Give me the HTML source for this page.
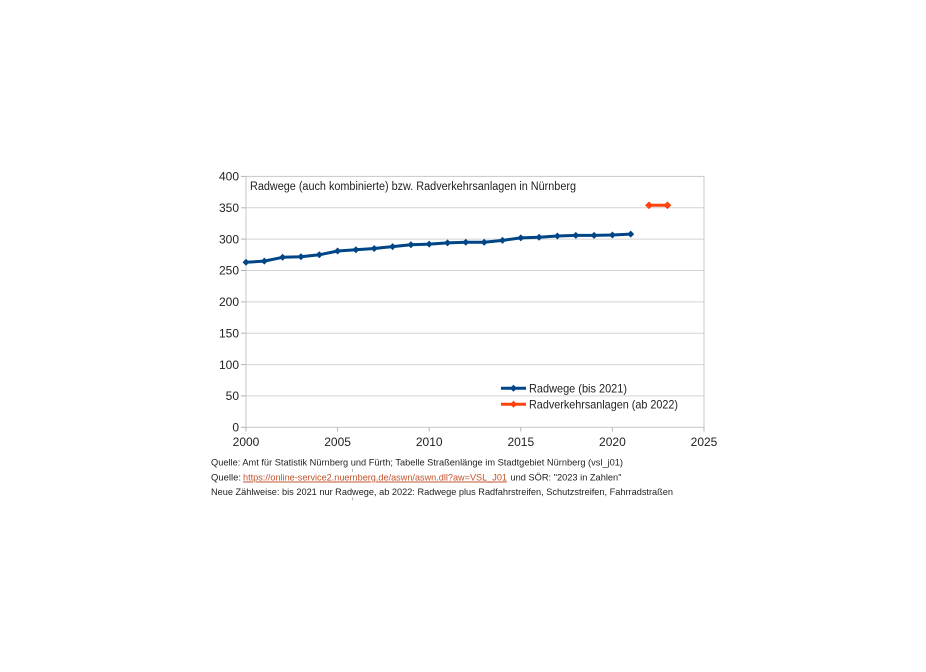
<!DOCTYPE html>
<html><head><meta charset="utf-8"><style>
html,body{margin:0;padding:0;background:#fff;}
svg{display:block;}
text{font-family:"Liberation Sans",sans-serif;}
</style></head><body>
<svg width="926" height="672" viewBox="0 0 926 672" xmlns="http://www.w3.org/2000/svg">
<rect width="926" height="672" fill="#fff"/>
<!-- gridlines -->
<g stroke="#d4d4d4" stroke-width="1">
<line x1="246" y1="395.9" x2="704" y2="395.9"/>
<line x1="246" y1="364.6" x2="704" y2="364.6"/>
<line x1="246" y1="333.2" x2="704" y2="333.2"/>
<line x1="246" y1="301.9" x2="704" y2="301.9"/>
<line x1="246" y1="270.5" x2="704" y2="270.5"/>
<line x1="246" y1="239.1" x2="704" y2="239.1"/>
<line x1="246" y1="207.8" x2="704" y2="207.8"/>
</g>
<!-- frame -->
<rect x="246" y="176.4" width="458" height="250.9" fill="none" stroke="#c8c8c8" stroke-width="1"/>
<!-- ticks -->
<g stroke="#b3b3b3" stroke-width="1">
<line x1="241" y1="427.3" x2="246" y2="427.3"/>
<line x1="241" y1="395.9" x2="246" y2="395.9"/>
<line x1="241" y1="364.6" x2="246" y2="364.6"/>
<line x1="241" y1="333.2" x2="246" y2="333.2"/>
<line x1="241" y1="301.9" x2="246" y2="301.9"/>
<line x1="241" y1="270.5" x2="246" y2="270.5"/>
<line x1="241" y1="239.1" x2="246" y2="239.1"/>
<line x1="241" y1="207.8" x2="246" y2="207.8"/>
<line x1="241" y1="176.4" x2="246" y2="176.4"/>
<line x1="246" y1="427.3" x2="246" y2="431.5"/>
<line x1="337.6" y1="427.3" x2="337.6" y2="431.5"/>
<line x1="429.2" y1="427.3" x2="429.2" y2="431.5"/>
<line x1="520.8" y1="427.3" x2="520.8" y2="431.5"/>
<line x1="612.4" y1="427.3" x2="612.4" y2="431.5"/>
<line x1="704" y1="427.3" x2="704" y2="431.5"/>
</g>
<!-- y labels -->
<g font-size="12" fill="#222" text-anchor="end">
<text x="239" y="431.5">0</text>
<text x="239" y="400.1">50</text>
<text x="239" y="368.8">100</text>
<text x="239" y="337.4">150</text>
<text x="239" y="306.1">200</text>
<text x="239" y="274.7">250</text>
<text x="239" y="243.3">300</text>
<text x="239" y="212">350</text>
<text x="239" y="180.6">400</text>
</g>
<!-- x labels -->
<g font-size="12" fill="#222" text-anchor="middle">
<text x="246" y="446">2000</text>
<text x="337.6" y="446">2005</text>
<text x="429.2" y="446">2010</text>
<text x="520.8" y="446">2015</text>
<text x="612.4" y="446">2020</text>
<text x="704" y="446">2025</text>
</g>
<!-- title -->
<text x="250" y="190" font-size="11.5" fill="#222" textLength="326" lengthAdjust="spacingAndGlyphs">Radwege (auch kombinierte) bzw. Radverkehrsanlagen in Nürnberg</text>
<!-- series 1 -->
<polyline fill="none" stroke="#004586" stroke-width="3" stroke-linejoin="round" points="246,262.3 264.3,261.1 282.6,257.3 301,256.7 319.3,254.8 337.6,251 355.9,249.8 374.2,248.5 392.6,246.6 410.9,244.8 429.2,244.1 447.5,242.9 465.8,242.3 484.2,242.3 502.5,240.4 520.8,237.9 539.1,237.2 557.4,236 575.8,235.4 594.1,235.4 612.4,235 630.7,234.1"/>
<g fill="#004586">
<path d="M246,258.8l3.5,3.5l-3.5,3.5l-3.5,-3.5z"/>
<path d="M264.3,257.6l3.5,3.5l-3.5,3.5l-3.5,-3.5z"/>
<path d="M282.6,253.8l3.5,3.5l-3.5,3.5l-3.5,-3.5z"/>
<path d="M301,253.2l3.5,3.5l-3.5,3.5l-3.5,-3.5z"/>
<path d="M319.3,251.3l3.5,3.5l-3.5,3.5l-3.5,-3.5z"/>
<path d="M337.6,247.5l3.5,3.5l-3.5,3.5l-3.5,-3.5z"/>
<path d="M355.9,246.3l3.5,3.5l-3.5,3.5l-3.5,-3.5z"/>
<path d="M374.2,245l3.5,3.5l-3.5,3.5l-3.5,-3.5z"/>
<path d="M392.6,243.1l3.5,3.5l-3.5,3.5l-3.5,-3.5z"/>
<path d="M410.9,241.3l3.5,3.5l-3.5,3.5l-3.5,-3.5z"/>
<path d="M429.2,240.6l3.5,3.5l-3.5,3.5l-3.5,-3.5z"/>
<path d="M447.5,239.4l3.5,3.5l-3.5,3.5l-3.5,-3.5z"/>
<path d="M465.8,238.8l3.5,3.5l-3.5,3.5l-3.5,-3.5z"/>
<path d="M484.2,238.8l3.5,3.5l-3.5,3.5l-3.5,-3.5z"/>
<path d="M502.5,236.9l3.5,3.5l-3.5,3.5l-3.5,-3.5z"/>
<path d="M520.8,234.4l3.5,3.5l-3.5,3.5l-3.5,-3.5z"/>
<path d="M539.1,233.7l3.5,3.5l-3.5,3.5l-3.5,-3.5z"/>
<path d="M557.4,232.5l3.5,3.5l-3.5,3.5l-3.5,-3.5z"/>
<path d="M575.8,231.9l3.5,3.5l-3.5,3.5l-3.5,-3.5z"/>
<path d="M594.1,231.9l3.5,3.5l-3.5,3.5l-3.5,-3.5z"/>
<path d="M612.4,231.5l3.5,3.5l-3.5,3.5l-3.5,-3.5z"/>
<path d="M630.7,230.6l3.5,3.5l-3.5,3.5l-3.5,-3.5z"/>
</g>
<!-- series 2 -->
<line x1="649" y1="205.3" x2="667.4" y2="205.3" stroke="#ff420e" stroke-width="3"/>
<g fill="#ff420e">
<path d="M649,201.5l4,3.8l-4,3.8l-4,-3.8z"/>
<path d="M667.4,201.5l4,3.8l-4,3.8l-4,-3.8z"/>
</g>
<!-- legend -->
<line x1="501" y1="388.3" x2="526" y2="388.3" stroke="#004586" stroke-width="3"/>
<path d="M513.5,384.8l3.5,3.5l-3.5,3.5l-3.5,-3.5z" fill="#004586"/>
<text x="529" y="392.5" font-size="12" fill="#222" textLength="98" lengthAdjust="spacingAndGlyphs">Radwege (bis 2021)</text>
<line x1="501" y1="404.3" x2="526" y2="404.3" stroke="#ff420e" stroke-width="3"/>
<path d="M513.5,400.8l3.5,3.5l-3.5,3.5l-3.5,-3.5z" fill="#ff420e"/>
<text x="529" y="408.5" font-size="12" fill="#222" textLength="149" lengthAdjust="spacingAndGlyphs">Radverkehrsanlagen (ab 2022)</text>
<!-- footnotes -->
<g font-size="9.5" fill="#222">
<text x="211" y="465.5" textLength="412" lengthAdjust="spacingAndGlyphs">Quelle: Amt für Statistik Nürnberg und Fürth; Tabelle Straßenlänge im Stadtgebiet Nürnberg (vsl_j01)</text>
<text x="211" y="480.5" textLength="30" lengthAdjust="spacingAndGlyphs">Quelle:</text>
<text x="243" y="480.5" fill="#c2522a" text-decoration="underline" textLength="264" lengthAdjust="spacingAndGlyphs">https://online-service2.nuernberg.de/aswn/aswn.dll?aw=VSL_J01</text>
<text x="510.5" y="480.5" textLength="111" lengthAdjust="spacingAndGlyphs">und SÖR: "2023 in Zahlen"</text>
<text x="211" y="495" textLength="462" lengthAdjust="spacingAndGlyphs">Neue Zählweise: bis 2021 nur Radwege, ab 2022: Radwege plus Radfahrstreifen, Schutzstreifen, Fahrradstraßen</text>
</g>
<g stroke="#bbb" stroke-width="1">
<line x1="352.5" y1="469" x2="352.5" y2="472"/>
<line x1="352.5" y1="497.5" x2="352.5" y2="500.5"/>
</g>
</svg>
</body></html>
